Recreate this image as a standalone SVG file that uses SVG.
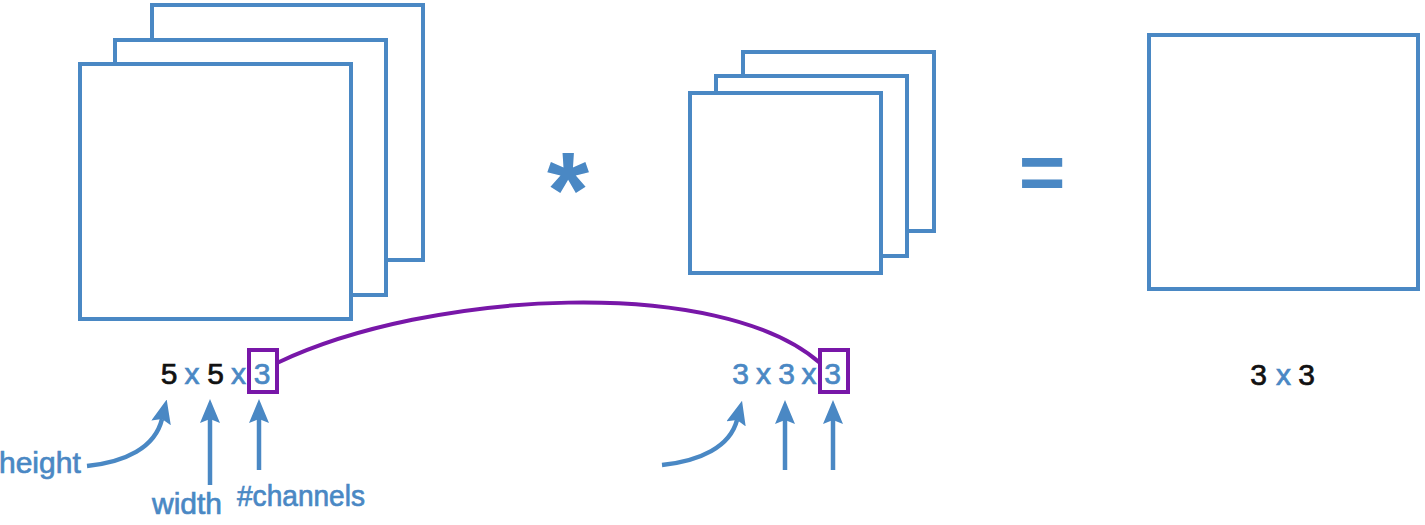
<svg xmlns="http://www.w3.org/2000/svg" width="1425" height="525" viewBox="0 0 1425 525">
<defs>
<style>
.sq{fill:#fff;stroke:#4a88c4;stroke-width:4}
.t{font-family:"Liberation Sans",Arial,sans-serif;font-size:30px;stroke-width:0.7}
.b{fill:#4a88c4;stroke:#4a88c4}
.k{fill:#111;stroke:#111}
.lbl{font-family:"Liberation Sans",Arial,sans-serif;font-size:30px;fill:#4a88c4;stroke:#4a88c4;stroke-width:0.7}
.arr{fill:none;stroke:#4a88c4;stroke-width:4.5;marker-end:url(#ah)}
.pur{fill:none;stroke:#7817a8;stroke-width:4}
.sym{font-family:"Liberation Sans",Arial,sans-serif;font-weight:bold;fill:#4a88c4;text-anchor:middle}
</style>
<marker id="ah" viewBox="0 0 24 20" refX="4" refY="10" markerWidth="24" markerHeight="20" markerUnits="userSpaceOnUse" orient="auto">
<path d="M0,0 L24,10 L0,20 L4,10 z" fill="#4a88c4"/>
</marker>
</defs>
<rect width="1425" height="525" fill="#fff"/>
<g id="input-volume">
<rect class="sq" x="152" y="5" width="271" height="255"/>
<rect class="sq" x="115" y="40" width="271" height="255"/>
<rect class="sq" x="80" y="64" width="271" height="255"/>
</g>
<g id="filter-volume">
<rect class="sq" x="743" y="52" width="191" height="179"/>
<rect class="sq" x="716" y="76" width="191" height="180"/>
<rect class="sq" x="690" y="93" width="191" height="180"/>
</g>
<g id="output">
<rect class="sq" x="1149" y="35" width="269" height="254"/>
</g>
<g id="operators">
<text class="sym" x="568" y="227" font-size="108">*</text>
<text class="sym" x="1042" y="199" font-size="80">=</text>
</g>
<g id="input-dims">
<g class="t" text-anchor="middle">
<text class="k" x="169" y="384">5</text>
<text class="b" x="192" y="384">x</text>
<text class="k" x="215.5" y="384">5</text>
<text class="b" x="238.5" y="384">x</text>
<text class="b" x="262" y="384">3</text>
</g>
<rect class="pur" x="249" y="350" width="28" height="42"/>
</g>
<g id="filter-dims">
<g class="t" text-anchor="middle">
<text class="b" x="740.5" y="384">3</text>
<text class="b" x="763.5" y="384">x</text>
<text class="b" x="786.5" y="384">3</text>
<text class="b" x="809" y="384">x</text>
<text class="b" x="832.5" y="384">3</text>
</g>
<rect class="pur" x="820" y="350" width="28" height="42"/>
</g>
<g id="output-dims">
<g class="t" text-anchor="middle">
<text class="k" x="1258.5" y="385">3</text>
<text class="b" x="1283.5" y="385">x</text>
<text class="k" x="1306.5" y="385">3</text>
</g>
</g>
<g id="labels">
<text class="lbl" x="-1" y="473">height</text>
<text class="lbl" x="152" y="514">width</text>
<text class="lbl" x="237" y="506" textLength="128" lengthAdjust="spacingAndGlyphs">#channels</text>
</g>
<g id="connectors">
<path class="pur" d="M277,363 C430,290 720,275 820,363"/>
<path class="arr" d="M87,466 C125,462 155,448 162,419"/>
<path class="arr" d="M210,485 L210,419"/>
<path class="arr" d="M259,470 L259,419"/>
<path class="arr" d="M662,465 C700,461 730,447 737,420"/>
<path class="arr" d="M785,470 L785,420"/>
<path class="arr" d="M833,470 L833,420"/>
</g>
</svg>
